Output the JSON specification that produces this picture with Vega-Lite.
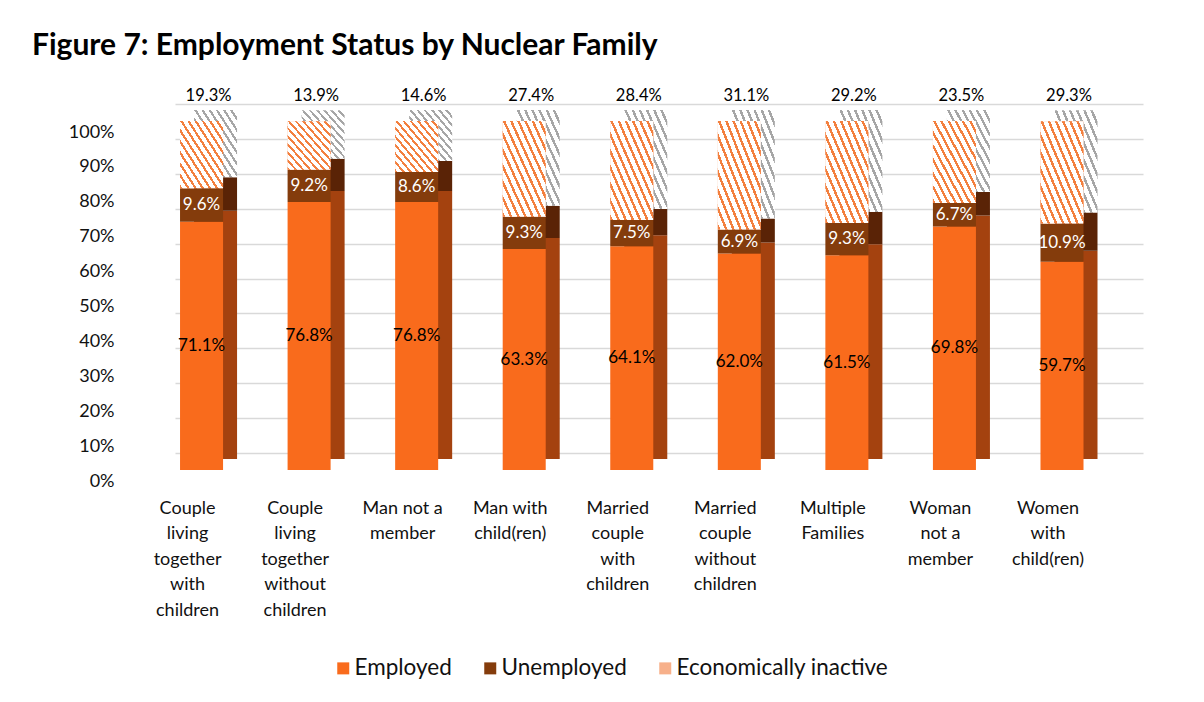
{
  "$schema": "https://vega.github.io/schema/vega-lite/v6.json",
  "autosize": {"type": "none"},
  "width": 968,
  "height": 349,
  "padding": {"left": 175, "top": 104, "right": 61, "bottom": 249},
  "background": "white",
  "title": {
    "text": "Figure 7: Employment Status by Nuclear Family",
    "anchor": "start",
    "frame": "group",
    "font": "Lato",
    "fontSize": 30,
    "fontWeight": "bold",
    "color": "#000000",
    "dx": -143,
    "offset": 27
  },
  "config": {
    "view": {"stroke": null},
    "font": "Lato",
    "axisY": {"labelOverlap": false}
  },
  "data": {
    "values": [
      {"family": "Couple living together with children", "status": "Employed", "value": 0.711},
      {"family": "Couple living together with children", "status": "Unemployed", "value": 0.096},
      {"family": "Couple living together with children", "status": "Economically inactive", "value": 0.193},
      {"family": "Couple living together without children", "status": "Employed", "value": 0.768},
      {"family": "Couple living together without children", "status": "Unemployed", "value": 0.092},
      {"family": "Couple living together without children", "status": "Economically inactive", "value": 0.139},
      {"family": "Man not a member", "status": "Employed", "value": 0.768},
      {"family": "Man not a member", "status": "Unemployed", "value": 0.086},
      {"family": "Man not a member", "status": "Economically inactive", "value": 0.146},
      {"family": "Man with child(ren)", "status": "Employed", "value": 0.633},
      {"family": "Man with child(ren)", "status": "Unemployed", "value": 0.093},
      {"family": "Man with child(ren)", "status": "Economically inactive", "value": 0.274},
      {"family": "Married couple with children", "status": "Employed", "value": 0.641},
      {"family": "Married couple with children", "status": "Unemployed", "value": 0.075},
      {"family": "Married couple with children", "status": "Economically inactive", "value": 0.284},
      {"family": "Married couple without children", "status": "Employed", "value": 0.620},
      {"family": "Married couple without children", "status": "Unemployed", "value": 0.069},
      {"family": "Married couple without children", "status": "Economically inactive", "value": 0.311},
      {"family": "Multiple Families", "status": "Employed", "value": 0.615},
      {"family": "Multiple Families", "status": "Unemployed", "value": 0.093},
      {"family": "Multiple Families", "status": "Economically inactive", "value": 0.292},
      {"family": "Woman not a member", "status": "Employed", "value": 0.698},
      {"family": "Woman not a member", "status": "Unemployed", "value": 0.067},
      {"family": "Woman not a member", "status": "Economically inactive", "value": 0.235},
      {"family": "Women with child(ren)", "status": "Employed", "value": 0.597},
      {"family": "Women with child(ren)", "status": "Unemployed", "value": 0.109},
      {"family": "Women with child(ren)", "status": "Economically inactive", "value": 0.293}
    ]
  },
  "transform": [
    {"window": [{"op": "row_number", "as": "rn"}]},
    {"stack": "value", "groupby": ["family"], "sort": [{"field": "rn", "order": "ascending"}], "as": ["v0", "v1"]}
  ],
  "encoding": {
    "x": {
      "field": "family",
      "type": "nominal",
      "sort": null,
      "title": null,
      "scale": {"paddingInner": 0.6, "paddingOuter": 0.3, "align": 0.078},
      "axis": {
        "domain": false,
        "ticks": false,
        "grid": false,
        "labelAngle": 0,
        "labelFont": "Lato",
        "labelFontSize": 18,
        "labelColor": "#111111",
        "labelOffset": -14,
        "labelPadding": 46,
        "labelBaseline": "top",
        "labelLineHeight": 25.5,
        "labelAlign": "center",
        "labelLimit": 0,
        "labelExpr": "datum.label == 'Couple living together with children' ? ['Couple','living','together','with','children'] : datum.label == 'Couple living together without children' ? ['Couple','living','together','without','children'] : datum.label == 'Man not a member' ? ['Man not a','member'] : datum.label == 'Man with child(ren)' ? ['Man with','child(ren)'] : datum.label == 'Married couple with children' ? ['Married','couple','with','children'] : datum.label == 'Married couple without children' ? ['Married','couple','without','children'] : datum.label == 'Multiple Families' ? ['Multiple','Families'] : datum.label == 'Woman not a member' ? ['Woman','not a','member'] : ['Women','with','child(ren)']"
      }
    },
    "y": {
      "field": "v0",
      "type": "quantitative",
      "scale": {"domain": [0, 1], "nice": false},
      "axis": {
        "title": null,
        "values": [0, 0.1, 0.2, 0.3, 0.4, 0.5, 0.6, 0.7, 0.8, 0.9, 1],
        "format": "%",
        "domain": false,
        "ticks": false,
        "grid": true,
        "gridColor": "#d9d9d9",
        "gridWidth": 1.5,
        "labelFont": "Lato",
        "labelFontSize": 18,
        "labelColor": "#111111",
        "labelPadding": 61,
        "labelOffset": 28,
        "labelOverlap": false
      }
    },
    "y2": {"field": "v1"}
  },
  "layer": [
    {
      "transform": [{"filter": "datum.status !== 'Economically inactive'"}],
      "mark": {"type": "bar", "xOffset": 14, "x2Offset": 14, "yOffset": 6, "y2Offset": 6},
      "encoding": {
        "fill": {
          "field": "status",
          "type": "nominal",
          "legend": null,
          "scale": {
            "domain": ["Employed", "Unemployed"],
            "range": ["#A4420F", "#5A2306"]
          }
        }
      }
    },
    {
      "transform": [{"filter": "datum.status === 'Economically inactive'"}],
      "mark": {"type": "bar", "xOffset": 14, "x2Offset": 14, "yOffset": 6, "y2Offset": 6,
        "fill": {"gradient": "linear", "x1": 0, "y1": 1, "x2": 1, "y2": 0, "stops": [
          {"offset": 0, "color": "#a6a6a6"}, {"offset": 0.03, "color": "#a6a6a6"}, {"offset": 0.03, "color": "#ffffff"}, {"offset": 0.0833, "color": "#ffffff"},
          {"offset": 0.0833, "color": "#a6a6a6"}, {"offset": 0.1133, "color": "#a6a6a6"}, {"offset": 0.1133, "color": "#ffffff"}, {"offset": 0.1667, "color": "#ffffff"},
          {"offset": 0.1667, "color": "#a6a6a6"}, {"offset": 0.1967, "color": "#a6a6a6"}, {"offset": 0.1967, "color": "#ffffff"}, {"offset": 0.25, "color": "#ffffff"},
          {"offset": 0.25, "color": "#a6a6a6"}, {"offset": 0.28, "color": "#a6a6a6"}, {"offset": 0.28, "color": "#ffffff"}, {"offset": 0.3333, "color": "#ffffff"},
          {"offset": 0.3333, "color": "#a6a6a6"}, {"offset": 0.3633, "color": "#a6a6a6"}, {"offset": 0.3633, "color": "#ffffff"}, {"offset": 0.4167, "color": "#ffffff"},
          {"offset": 0.4167, "color": "#a6a6a6"}, {"offset": 0.4467, "color": "#a6a6a6"}, {"offset": 0.4467, "color": "#ffffff"}, {"offset": 0.5, "color": "#ffffff"},
          {"offset": 0.5, "color": "#a6a6a6"}, {"offset": 0.53, "color": "#a6a6a6"}, {"offset": 0.53, "color": "#ffffff"}, {"offset": 0.5833, "color": "#ffffff"},
          {"offset": 0.5833, "color": "#a6a6a6"}, {"offset": 0.6133, "color": "#a6a6a6"}, {"offset": 0.6133, "color": "#ffffff"}, {"offset": 0.6667, "color": "#ffffff"},
          {"offset": 0.6667, "color": "#a6a6a6"}, {"offset": 0.6967, "color": "#a6a6a6"}, {"offset": 0.6967, "color": "#ffffff"}, {"offset": 0.75, "color": "#ffffff"},
          {"offset": 0.75, "color": "#a6a6a6"}, {"offset": 0.78, "color": "#a6a6a6"}, {"offset": 0.78, "color": "#ffffff"}, {"offset": 0.8333, "color": "#ffffff"},
          {"offset": 0.8333, "color": "#a6a6a6"}, {"offset": 0.8633, "color": "#a6a6a6"}, {"offset": 0.8633, "color": "#ffffff"}, {"offset": 0.9167, "color": "#ffffff"},
          {"offset": 0.9167, "color": "#a6a6a6"}, {"offset": 0.9467, "color": "#a6a6a6"}, {"offset": 0.9467, "color": "#ffffff"}, {"offset": 1, "color": "#ffffff"}
        ]}
      }
    },
    {
      "mark": {"type": "bar", "yOffset": 17, "y2Offset": 17},
      "encoding": {
        "color": {
          "field": "status",
          "type": "nominal",
          "scale": {
            "domain": ["Employed", "Unemployed", "Economically inactive"],
            "range": ["#F96B1C", "#843C0C", "#F7B08A"]
          },
          "legend": {
            "title": null,
            "orient": "none",
            "legendX": 157,
            "legendY": 553,
            "direction": "horizontal",
            "symbolType": "square",
            "symbolSize": 144,
            "symbolStrokeWidth": 0,
            "labelFont": "Lato",
            "labelFontSize": 22.5,
            "labelColor": "#111111",
            "labelOffset": 0,
            "labelLimit": 0,
            "columnPadding": 27,
            "padding": 0
          }
        }
      }
    },
    {
      "transform": [{"filter": "datum.status === 'Economically inactive'"}],
      "mark": {"type": "bar", "yOffset": 17, "y2Offset": 17,
        "fill": {"gradient": "linear", "x1": 0, "y1": 1, "x2": 1, "y2": 0, "stops": [
          {"offset": 0, "color": "#F3803F"}, {"offset": 0.03, "color": "#F3803F"}, {"offset": 0.03, "color": "#ffffff"}, {"offset": 0.0833, "color": "#ffffff"},
          {"offset": 0.0833, "color": "#F3803F"}, {"offset": 0.1133, "color": "#F3803F"}, {"offset": 0.1133, "color": "#ffffff"}, {"offset": 0.1667, "color": "#ffffff"},
          {"offset": 0.1667, "color": "#F3803F"}, {"offset": 0.1967, "color": "#F3803F"}, {"offset": 0.1967, "color": "#ffffff"}, {"offset": 0.25, "color": "#ffffff"},
          {"offset": 0.25, "color": "#F3803F"}, {"offset": 0.28, "color": "#F3803F"}, {"offset": 0.28, "color": "#ffffff"}, {"offset": 0.3333, "color": "#ffffff"},
          {"offset": 0.3333, "color": "#F3803F"}, {"offset": 0.3633, "color": "#F3803F"}, {"offset": 0.3633, "color": "#ffffff"}, {"offset": 0.4167, "color": "#ffffff"},
          {"offset": 0.4167, "color": "#F3803F"}, {"offset": 0.4467, "color": "#F3803F"}, {"offset": 0.4467, "color": "#ffffff"}, {"offset": 0.5, "color": "#ffffff"},
          {"offset": 0.5, "color": "#F3803F"}, {"offset": 0.53, "color": "#F3803F"}, {"offset": 0.53, "color": "#ffffff"}, {"offset": 0.5833, "color": "#ffffff"},
          {"offset": 0.5833, "color": "#F3803F"}, {"offset": 0.6133, "color": "#F3803F"}, {"offset": 0.6133, "color": "#ffffff"}, {"offset": 0.6667, "color": "#ffffff"},
          {"offset": 0.6667, "color": "#F3803F"}, {"offset": 0.6967, "color": "#F3803F"}, {"offset": 0.6967, "color": "#ffffff"}, {"offset": 0.75, "color": "#ffffff"},
          {"offset": 0.75, "color": "#F3803F"}, {"offset": 0.78, "color": "#F3803F"}, {"offset": 0.78, "color": "#ffffff"}, {"offset": 0.8333, "color": "#ffffff"},
          {"offset": 0.8333, "color": "#F3803F"}, {"offset": 0.8633, "color": "#F3803F"}, {"offset": 0.8633, "color": "#ffffff"}, {"offset": 0.9167, "color": "#ffffff"},
          {"offset": 0.9167, "color": "#F3803F"}, {"offset": 0.9467, "color": "#F3803F"}, {"offset": 0.9467, "color": "#ffffff"}, {"offset": 1, "color": "#ffffff"}
        ]}
      }
    },
    {
      "transform": [
        {"filter": "datum.status !== 'Economically inactive'"},
        {"fold": ["v0", "v1"], "as": ["edge", "pos"]},
        {"aggregate": [{"op": "mean", "field": "pos", "as": "mid"}], "groupby": ["family", "status", "value"]}
      ],
      "mark": {"type": "text", "font": "Lato", "fontSize": 17, "yOffset": 17, "baseline": "middle", "align": "center"},
      "encoding": {
        "y": {
          "field": "mid",
          "type": "quantitative",
          "scale": {"domain": [0, 1], "nice": false},
          "axis": {
            "title": null,
            "values": [0, 0.1, 0.2, 0.3, 0.4, 0.5, 0.6, 0.7, 0.8, 0.9, 1],
            "format": "%",
            "domain": false,
            "ticks": false,
            "grid": true,
            "gridColor": "#d9d9d9",
            "gridWidth": 1.5,
            "labelFont": "Lato",
            "labelFontSize": 18,
            "labelColor": "#111111",
            "labelPadding": 61,
            "labelOffset": 28,
            "labelOverlap": false
          }
        },
        "y2": null,
        "text": {"field": "value", "type": "quantitative", "format": ".1%"},
        "color": {"condition": {"test": "datum.status === 'Unemployed'", "value": "#ffffff"}, "value": "#000000"}
      }
    },
    {
      "transform": [{"filter": "datum.status === 'Economically inactive'"}],
      "mark": {"type": "text", "font": "Lato", "fontSize": 16.5, "xOffset": 7, "yOffset": -8, "baseline": "middle", "align": "center", "color": "#000000"},
      "encoding": {
        "y": {
          "datum": 1,
          "type": "quantitative",
          "scale": {"domain": [0, 1], "nice": false},
          "axis": {
            "title": null,
            "values": [0, 0.1, 0.2, 0.3, 0.4, 0.5, 0.6, 0.7, 0.8, 0.9, 1],
            "format": "%",
            "domain": false,
            "ticks": false,
            "grid": true,
            "gridColor": "#d9d9d9",
            "gridWidth": 1.5,
            "labelFont": "Lato",
            "labelFontSize": 18,
            "labelColor": "#111111",
            "labelPadding": 61,
            "labelOffset": 28,
            "labelOverlap": false
          }
        },
        "y2": null,
        "text": {"field": "value", "type": "quantitative", "format": ".1%"}
      }
    }
  ]
}
